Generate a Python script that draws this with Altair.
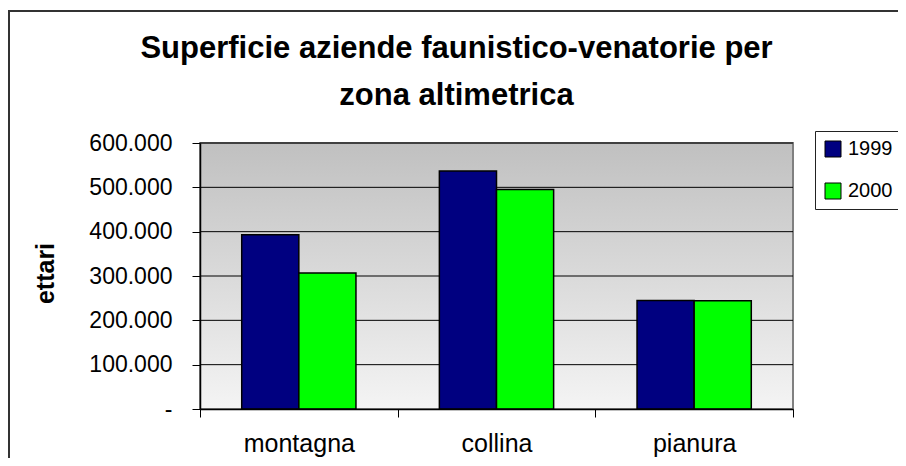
import altair as alt
import pandas as pd

zones = ["montagna", "collina", "pianura"]
years = ["1999", "2000"]
values_1999 = [393000, 537000, 245000]
values_2000 = [307000, 495000, 244000]
y_ticks = [0, 100000, 200000, 300000, 400000, 500000, 600000]
colors = ["#000080", "#00ff00"]
title_lines = ["Superficie aziende faunistico-venatorie per", "zona altimetrica"]

rows = []
for z, a, b in zip(zones, values_1999, values_2000):
    rows.append({"zona": z, "anno": years[0], "ettari": a})
    rows.append({"zona": z, "anno": years[1], "ettari": b})
df = pd.DataFrame(rows)
grid_df = pd.DataFrame({"v": y_ticks[1:]})

W, H = 593, 266
FONT = "Liberation Sans"
yscale = alt.Scale(domain=[0, 600000], nice=False, zero=True)

y_axis = alt.Axis(values=y_ticks, grid=False,
                  labelExpr="datum.value == 0 ? '-' : format(datum.value/1000, 'd') + '.000'",
                  tickSize=8, tickColor="black", domainColor="black",
                  domainWidth=1.5, labelFont=FONT, labelFontSize=23,
                  labelColor="black", labelPadding=20,
                  title="ettari", titleFont=FONT, titleFontSize=25,
                  titleFontWeight="bold", titleColor="black",
                  titleX=-155, titleY=130, titleAngle=270,
                  titleAlign="center", titleBaseline="middle", zindex=1)

bg = alt.Chart(alt.Data(values=[{}])).mark_rect(
    fill=alt.LinearGradient(
        gradient="linear", x1=0, y1=0, x2=0, y2=1,
        stops=[alt.GradientStop(offset=0, color="#c0c0c0"),
               alt.GradientStop(offset=1, color="#f4f4f4")]),
    stroke="#808080", strokeWidth=2,
).encode(x=alt.value(0), x2=alt.value(W), y=alt.value(0), y2=alt.value(H))

frame = alt.Chart(alt.Data(values=[{}])).mark_rect(
    fillOpacity=0, stroke="#333333", strokeWidth=2,
).encode(x=alt.value(-191), x2=alt.value(W + 200), y=alt.value(-132), y2=alt.value(H + 120))

grid = alt.Chart(grid_df).mark_rule(color="black", strokeWidth=1).encode(
    y=alt.Y("v:Q", scale=yscale, axis=y_axis)
)

bars = alt.Chart(df).mark_bar(stroke="black", strokeWidth=1.5).encode(
    x=alt.X("zona:N", sort=zones,
            scale=alt.Scale(paddingInner=0, paddingOuter=0),
            axis=alt.Axis(title=None, labelAngle=0, tickBand="extent",
                          tickSize=8, tickColor="black", domainColor="black",
                          domainWidth=1.5, labelFont=FONT, labelFontSize=25,
                          labelColor="black", labelPadding=14, zindex=1)),
    xOffset=alt.XOffset("anno:N", sort=years,
                        scale=alt.Scale(paddingInner=0, paddingOuter=0.73)),
    y=alt.Y("ettari:Q", scale=yscale, axis=y_axis),
    color=alt.Color("anno:N", sort=years,
                    scale=alt.Scale(domain=years, range=colors),
                    legend=alt.Legend(title=None, orient="none", legendX=615, legendY=-12,
                                      direction="vertical",
                                      strokeColor="#222222", fillColor="white",
                                      padding=8, symbolType="square", symbolSize=256,
                                      symbolStrokeColor="black", symbolStrokeWidth=1,
                                      symbolOpacity=1,
                                      labelFont=FONT, labelFontSize=20, labelColor="black",
                                      labelOffset=5, rowPadding=22)),
)

chart = alt.layer(bg, grid, bars, frame).properties(
    width=W, height=H,
    title=alt.TitleParams(title_lines, font=FONT, fontSize=31, fontWeight="bold",
                          anchor="middle", dx=-40, offset=-102, lineHeight=47,
                          color="black"),
    autosize=alt.AutoSizeParams(type="none"),
    padding={"left": 192, "top": 135, "right": 105, "bottom": 49},
    background="white",
).configure_view(stroke=None)

chart.save("out.html", embed_options={"renderer": "svg", "actions": False})
